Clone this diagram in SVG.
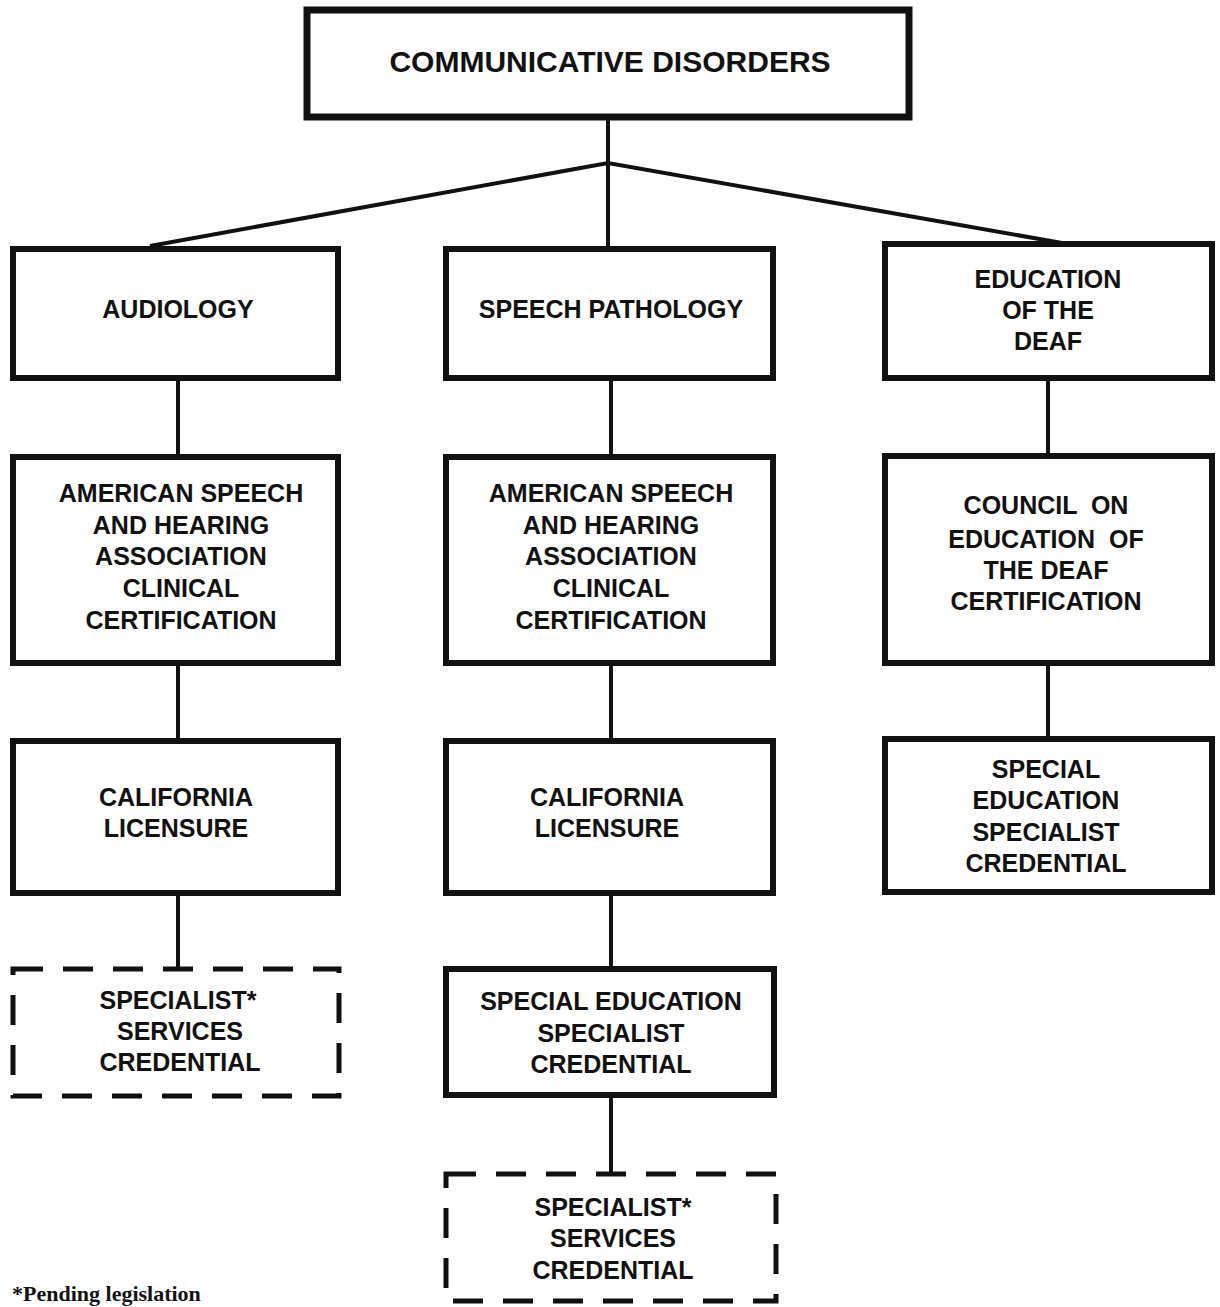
<svg xmlns="http://www.w3.org/2000/svg" width="1220" height="1307" viewBox="0 0 1220 1307">
<style>
.box{fill:#fff;stroke:#111;stroke-width:6}
.top{fill:#fff;stroke:#111;stroke-width:7}
.dash{fill:#fff;stroke:#111;stroke-width:5;stroke-dasharray:30 20}
.lbl{font-family:"Liberation Sans",Arial,sans-serif;font-weight:bold;font-size:25px;fill:#111;text-anchor:middle}
.big{font-size:30px}
.conn{stroke:#111;stroke-width:4;fill:none}
.note{font-family:"Liberation Serif","Times New Roman",serif;font-weight:bold;font-size:22px;fill:#111}
</style>
<rect width="1220" height="1307" fill="#fff"/>
<g id="connectors">
<line class="conn" x1="608" y1="118" x2="608" y2="248"/>
<polyline class="conn" points="150,246 608,163 1062,243"/>
<line class="conn" x1="178" y1="378" x2="178" y2="456"/>
<line class="conn" x1="178" y1="663" x2="178" y2="740"/>
<line class="conn" x1="178" y1="893" x2="178" y2="968"/>
<line class="conn" x1="611" y1="378" x2="611" y2="456"/>
<line class="conn" x1="611" y1="663" x2="611" y2="740"/>
<line class="conn" x1="611" y1="893" x2="611" y2="968"/>
<line class="conn" x1="611" y1="1096" x2="611" y2="1173"/>
<line class="conn" x1="1048" y1="378" x2="1048" y2="455"/>
<line class="conn" x1="1048" y1="663" x2="1048" y2="738"/>
</g>
<g id="communicative-disorders">
<rect class="top" x="307" y="10" width="602" height="107"/>
<text class="lbl big" x="610" y="72">COMMUNICATIVE DISORDERS</text>
</g>
<g id="audiology">
<rect class="box" x="13" y="249" width="325" height="129"/>
<text class="lbl" x="178" y="318">AUDIOLOGY</text>
</g>
<g id="speech-pathology">
<rect class="box" x="446" y="249" width="327" height="129"/>
<text class="lbl" x="611" y="318">SPEECH PATHOLOGY</text>
</g>
<g id="education-deaf">
<rect class="box" x="885" y="244" width="327" height="134"/>
<text class="lbl" x="1048" y="288">EDUCATION</text>
<text class="lbl" x="1048" y="319">OF THE</text>
<text class="lbl" x="1048" y="350">DEAF</text>
</g>
<g id="asha-audiology">
<rect class="box" x="13" y="457" width="325" height="206"/>
<text class="lbl" x="181" y="502">AMERICAN SPEECH</text>
<text class="lbl" x="181" y="534">AND HEARING</text>
<text class="lbl" x="181" y="565">ASSOCIATION</text>
<text class="lbl" x="181" y="597">CLINICAL</text>
<text class="lbl" x="181" y="629">CERTIFICATION</text>
</g>
<g id="asha-speech">
<rect class="box" x="446" y="457" width="327" height="206"/>
<text class="lbl" x="611" y="502">AMERICAN SPEECH</text>
<text class="lbl" x="611" y="534">AND HEARING</text>
<text class="lbl" x="611" y="565">ASSOCIATION</text>
<text class="lbl" x="611" y="597">CLINICAL</text>
<text class="lbl" x="611" y="629">CERTIFICATION</text>
</g>
<g id="council-deaf">
<rect class="box" x="885" y="456" width="327" height="207"/>
<text class="lbl" x="1046" y="514" xml:space="preserve">COUNCIL  ON</text>
<text class="lbl" x="1046" y="548" xml:space="preserve">EDUCATION  OF</text>
<text class="lbl" x="1046" y="579">THE DEAF</text>
<text class="lbl" x="1046" y="610">CERTIFICATION</text>
</g>
<g id="licensure-audiology">
<rect class="box" x="13" y="741" width="325" height="152"/>
<text class="lbl" x="176" y="806">CALIFORNIA</text>
<text class="lbl" x="176" y="837">LICENSURE</text>
</g>
<g id="licensure-speech">
<rect class="box" x="446" y="741" width="327" height="152"/>
<text class="lbl" x="607" y="806">CALIFORNIA</text>
<text class="lbl" x="607" y="837">LICENSURE</text>
</g>
<g id="special-ed-deaf">
<rect class="box" x="885" y="739" width="327" height="153"/>
<text class="lbl" x="1046" y="778">SPECIAL</text>
<text class="lbl" x="1046" y="809">EDUCATION</text>
<text class="lbl" x="1046" y="841">SPECIALIST</text>
<text class="lbl" x="1046" y="872">CREDENTIAL</text>
</g>
<g id="specialist-audiology">
<rect class="dash" x="13" y="969" width="326" height="127"/>
<text class="lbl" x="178" y="1009">SPECIALIST*</text>
<text class="lbl" x="180" y="1040">SERVICES</text>
<text class="lbl" x="180" y="1071">CREDENTIAL</text>
</g>
<g id="special-ed-speech">
<rect class="box" x="446" y="969" width="328" height="126"/>
<text class="lbl" x="611" y="1010">SPECIAL EDUCATION</text>
<text class="lbl" x="611" y="1042">SPECIALIST</text>
<text class="lbl" x="611" y="1073">CREDENTIAL</text>
</g>
<g id="specialist-speech">
<rect class="dash" x="446" y="1174" width="330" height="127"/>
<text class="lbl" x="613" y="1216">SPECIALIST*</text>
<text class="lbl" x="613" y="1247">SERVICES</text>
<text class="lbl" x="613" y="1279">CREDENTIAL</text>
</g>
<text class="note" x="12" y="1301">*Pending legislation</text>
</svg>
